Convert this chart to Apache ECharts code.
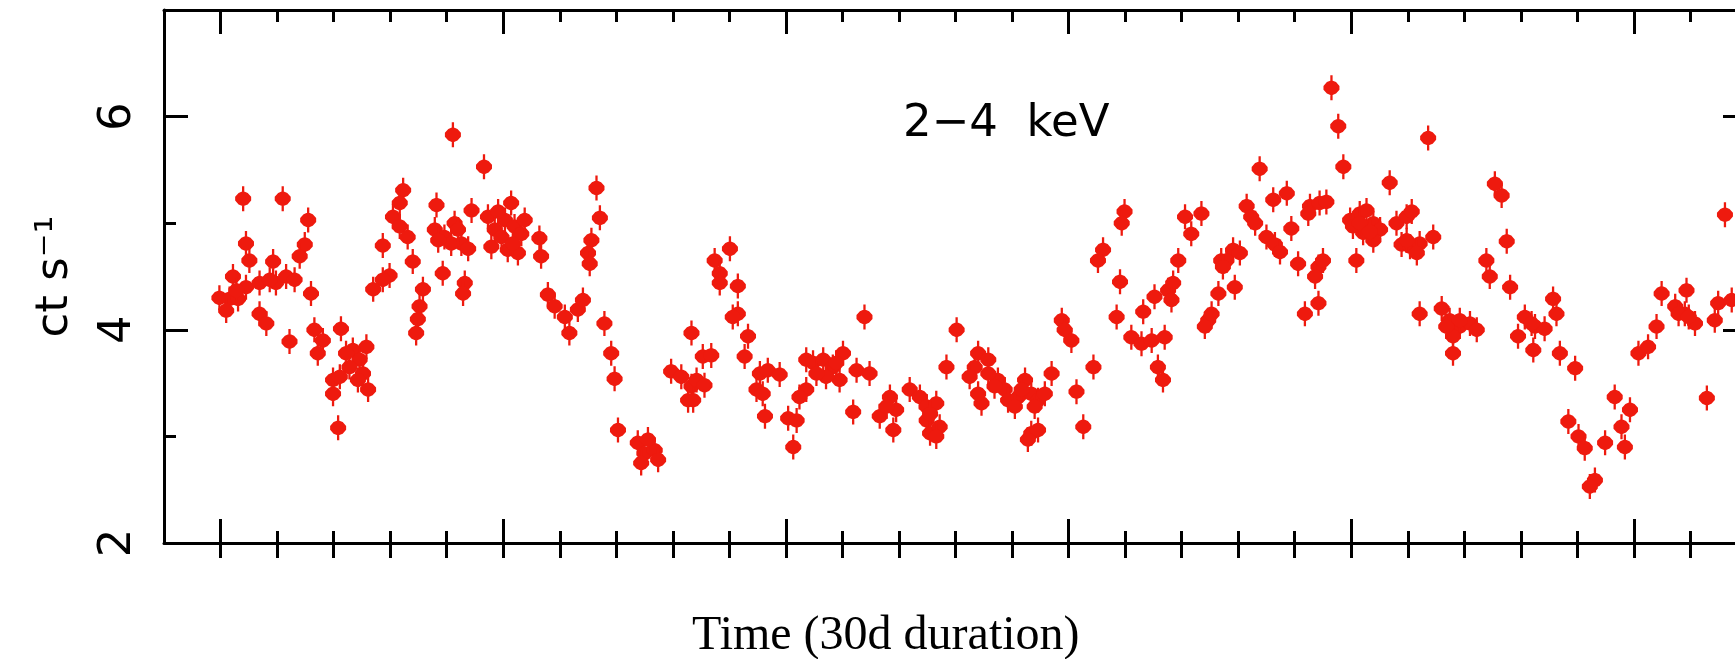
<!DOCTYPE html>
<html>
<head>
<meta charset="utf-8">
<title>2-4 keV light curve</title>
<script src="https://cdn.jsdelivr.net/npm/echarts@6/dist/echarts.min.js"></script>
<style>
  html, body { margin: 0; padding: 0; background: #fff; }
  #chart { width: 1735px; height: 659px; }
</style>
</head>
<body>
<div id="chart"></div>
<script>
// time in days (major tick every 5 days), rate in ct/s
const times = [
  0.40, 1.10, 1.55, 0.45, 0.51, 1.49, 1.40, 0.93, 0.22, 0.45,
  0.69, 0.98, 1.16, 1.31, -0.02, 0.16, 0.31, 0.10, 1.60, 0.69,
  0.81, 1.22, 1.66, 1.81, 1.72, 2.13, 2.34, 2.58, 2.46, 2.28,
  2.52, 1.99, 2.11, 2.61, 1.99, 2.08, 3.23, 3.17, 3.05, 3.17,
  3.31, 2.87, 3.40, 2.99, 2.87, 2.70, 3.58, 3.52, 3.49, 3.46,
  2.22, 2.43, 0.28, 0.87,
  4.11, 4.66, 3.82, 4.44, 5.14, 3.79, 3.96, 4.14, 4.26, 4.38,
  4.08, 4.73, 4.85, 5.03, 5.20, 5.32, 4.79, 5.08, 5.26, 4.97,
  5.64, 5.67, 3.93, 4.32, 4.29, 6.65, 6.71, 6.56, 6.50, 6.53,
  5.79, 5.91, 6.09, 6.17, 6.32, 6.41, 6.79, 6.91, 6.97, 7.03,
  7.38, 7.50, 7.68, 7.74, 7.44, 7.56, 7.97, 8.15, 8.27, 8.33,
  8.33, 4.91, 5.38, 5.17, 4.20, 3.85,
  8.53, 8.68, 8.42, 8.56, 8.36, 9.01, 8.74, 8.83, 8.83, 9.15,
  9.15, 9.06, 9.33, 9.27, 9.54, 9.68, 9.89, 9.48, 9.59, 9.63,
  10.04, 10.19, 10.13, 10.36, 10.48, 10.66, 10.83, 11.01, 10.95, 10.71,
  10.36, 10.24, 11.39, 11.25, 11.48, 11.19, 11.66, 11.84, 11.95, 11.90,
  12.19, 12.37, 12.49, 12.66, 12.49, 12.55, 12.72, 12.66, 12.84, 13.02,
  10.54, 10.89, 11.78, 12.55,
  13.40, 13.58, 13.34, 13.25, 13.46, 13.40, 13.75, 13.87, 13.69, 13.93,
  14.11, 14.23, 14.34, 14.46, 14.58, 14.05, 14.40, 14.34, 14.46, 14.28,
  14.70, 14.88, 14.93, 15.05, 15.14, 15.26, 15.44, 15.61, 15.52, 15.99,
  15.94, 15.91, 15.85, 16.11, 16.29, 16.47, 16.70, 16.32, 16.52, 16.76,
  16.85, 16.82, 16.58, 16.67, 16.94, 17.06, 17.35, 17.17, 17.65, 17.47,
  17.41, 17.53, 17.70, 14.17, 13.58,
  17.91, 17.79, 18.03, 17.73, 17.94, 18.38, 18.15, 18.23, 18.30, 18.62,
  18.86, 18.50, 18.65, 18.74, 18.94, 19.06, 19.27, 19.44, 19.56, 19.24,
  19.42, 19.36, 19.50, 19.18, 19.42, 19.65, 19.77, 19.86, 20.09, 19.98,
  20.15, 20.27, 20.39, 20.51, 20.21, 20.39, 20.03, 20.68, 20.80, 20.98,
  21.07, 20.89, 21.04, 21.21, 21.16, 21.45, 21.36, 21.21, 21.60, 21.74,
  21.92, 22.10, 22.22, 21.80, 21.80, 20.15, 20.33, 20.98, 21.92, 21.68,
  22.54, 22.66, 22.75, 22.39, 22.45, 22.81, 23.57, 23.63, 23.07, 23.25,
  23.42, 22.95, 23.22, 23.69, 23.96, 24.66, 24.93, 24.78, 24.84, 23.84,
  24.02, 24.13, 24.49, 24.31, 24.22, 25.08, 25.25, 25.40, 25.49, 25.73,
  25.90, 26.08, 25.93, 26.29, 26.49, 26.43, 26.73, 26.61, 25.79, 25.97,
  23.19
];
const rates = [
  5.23, 5.23, 5.03, 4.81, 4.65, 4.80, 4.69, 4.64, 4.50, 4.40,
  4.44, 4.44, 4.50, 4.47, 4.30, 4.29, 4.29, 4.18, 4.34, 4.15,
  4.06, 3.89, 4.00, 3.90, 3.78, 4.01, 3.81, 3.84, 3.72, 3.65,
  3.59, 3.53, 3.56, 3.44, 3.40, 3.08, 5.31, 5.19, 5.06, 4.97,
  4.87, 4.79, 4.64, 4.51, 4.47, 4.38, 4.38, 4.22, 4.10, 3.97,
  3.78, 3.53, 4.37, 4.47,
  5.83, 5.53, 5.17, 5.12, 5.19, 4.94, 4.87, 5.00, 4.81, 4.76,
  4.81, 5.06, 4.94, 5.03, 4.97, 4.90, 4.78, 4.75, 4.72, 4.87,
  4.86, 4.69, 4.53, 4.44, 4.34, 5.33, 5.05, 4.84, 4.72, 4.62,
  4.33, 4.22, 4.12, 3.97, 4.19, 4.28, 4.06, 3.78, 3.54, 3.06,
  2.94, 2.84, 2.87, 2.78, 2.75, 2.97, 3.61, 3.56, 3.34, 3.47,
  3.97, 5.11, 5.03, 4.81, 4.94, 4.84,
  3.75, 3.76, 3.53, 3.48, 3.34, 4.76, 4.65, 4.53, 4.44, 4.41,
  4.15, 4.12, 3.94, 3.75, 3.59, 3.62, 3.58, 3.44, 3.40, 3.19,
  3.17, 3.15, 2.90, 3.72, 3.69, 3.72, 3.65, 3.78, 3.53, 3.56,
  3.44, 3.37, 4.12, 3.62, 3.59, 3.23, 3.19, 3.37, 3.25, 3.06,
  3.44, 3.37, 3.28, 3.31, 3.15, 3.03, 3.09, 3.00, 3.65, 4.00,
  3.59, 3.69, 3.28, 3.21,
  3.78, 3.72, 3.65, 3.56, 3.31, 3.40, 3.53, 3.44, 3.47, 3.34,
  3.37, 3.53, 3.40, 3.34, 3.40, 3.28, 3.28, 3.03, 3.06, 2.97,
  3.59, 4.09, 4.00, 3.90, 3.42, 3.09, 3.65, 4.75, 4.65, 5.11,
  5.00, 4.45, 4.12, 3.93, 3.87, 3.90, 3.93, 4.17, 4.31, 4.37,
  4.44, 4.28, 3.65, 3.53, 4.65, 5.06, 5.09, 4.90, 4.34, 4.09,
  4.03, 4.15, 4.65, 3.44, 3.59,
  4.75, 4.65, 4.72, 4.59, 4.40, 5.51, 5.16, 5.06, 5.00, 5.22,
  5.28, 4.87, 4.80, 4.73, 4.95, 4.62, 5.16, 5.19, 5.20, 5.09,
  4.59, 4.50, 4.65, 4.15, 4.25, 6.27, 5.91, 5.53, 4.65, 5.03,
  5.09, 5.12, 5.00, 4.94, 4.91, 4.84, 4.97, 5.38, 5.00, 5.06,
  5.11, 4.80, 4.78, 4.81, 4.72, 4.87, 5.80, 4.15, 4.20, 4.09,
  4.03, 4.06, 4.00, 3.94, 3.78, 5.00, 4.92, 4.84, 4.09, 4.03,
  5.37, 5.26, 4.83, 4.65, 4.50, 4.40, 4.29, 4.15, 4.12, 4.03,
  4.01, 3.94, 3.81, 3.78, 3.64, 3.37, 3.25, 3.09, 2.90, 3.14,
  3.00, 2.89, 2.94, 2.59, 2.53, 3.78, 3.84, 4.03, 4.34, 4.22,
  4.15, 4.06, 4.37, 3.36, 4.25, 4.09, 4.28, 5.08, 4.15, 4.12,
  4.06
];
const majorTicksX = [0, 5, 10, 15, 20, 25];
const minorTicksX = [1, 2, 3, 4, 6, 7, 8, 9, 11, 12, 13, 14, 16, 17, 18, 19, 21, 22, 23, 24, 26];
const yLabels = [2, 4, 6];
const minorTicksY = [3, 5];

const chart = echarts.init(document.getElementById('chart'));

const black = '#000';
const pgFont = 'DejaVu Sans';
const line = { show: true, onZero: false, lineStyle: { color: black, width: 3 } };
const noLine = { show: false, onZero: false };

const xAxisOf = (position, showLine, ticks, length, inside) => ({
  type: 'value', min: -1, max: 27, position, offset: 0,
  axisLine: showLine ? line : noLine,
  axisTick: { show: true, inside, length, customValues: ticks, lineStyle: { color: black, width: 3 } },
  axisLabel: { show: false },
  splitLine: { show: false }
});

const yAxisOf = (position, showLine, ticks, length) => ({
  type: 'value', min: 2, max: 7, position, offset: 0,
  axisLine: showLine ? line : noLine,
  axisTick: { show: true, inside: true, length, customValues: ticks, lineStyle: { color: black, width: 3 } },
  axisLabel: { show: false },
  splitLine: { show: false }
});

// the left one carries labels and title
const yMain = yAxisOf('left', true, yLabels, 24);
yMain.axisLabel = {
  show: true, customValues: yLabels, rotate: 90, margin: 23,
  color: black, fontFamily: pgFont, fontSize: 45
};
yMain.name = 'ct s\u207B\u00B9';
yMain.nameLocation = 'middle';
yMain.nameGap = 86;
yMain.nameTextStyle = { color: black, fontFamily: pgFont, fontSize: 45 };

const option = {
  animation: false,
  backgroundColor: '#fff',
  // the frame runs on past the right edge of the picture
  grid: { left: 164, width: 1583, top: 10, bottom: 116, containLabel: false, outerBoundsMode: 'none' },
  xAxis: [
    xAxisOf('bottom', true, majorTicksX, 24, true),
    xAxisOf('bottom', false, minorTicksX, 12, true),
    xAxisOf('bottom', false, majorTicksX.concat(minorTicksX), 15, false),
    xAxisOf('top', true, majorTicksX, 24, true),
    xAxisOf('top', false, minorTicksX, 12, true)
  ],
  yAxis: [
    yMain,
    yAxisOf('left', false, minorTicksY, 12),
    yAxisOf('right', true, yLabels, 24),
    yAxisOf('right', false, minorTicksY, 12)
  ],
  graphic: [
    {
      type: 'text', x: 903, y: 124,
      style: { text: '2\u22124  keV', fill: black, fontFamily: pgFont, fontSize: 45, align: 'left', verticalAlign: 'middle' }
    },
    {
      type: 'text', x: 692, y: 636,
      style: { text: 'Time (30d duration)', fill: black, fontFamily: 'Liberation Serif', fontSize: 48, align: 'left', verticalAlign: 'middle' }
    }
  ],
  series: [
    {
      type: 'scatter',
      xAxisIndex: 0,
      yAxisIndex: 0,
      data: times.map((t, i) => [t, rates[i]]),
      // point with its short error bar
      symbol: 'path://M7 0H9V26H7Z M8 5L12 7L15 11L15 15L12 19L8 21L4 19L1 15L1 11L4 7Z',
      symbolSize: [16, 25],
      itemStyle: { color: '#ee1a0e', opacity: 1 }
    }
  ]
};

chart.setOption(option);
</script>
</body>
</html>
